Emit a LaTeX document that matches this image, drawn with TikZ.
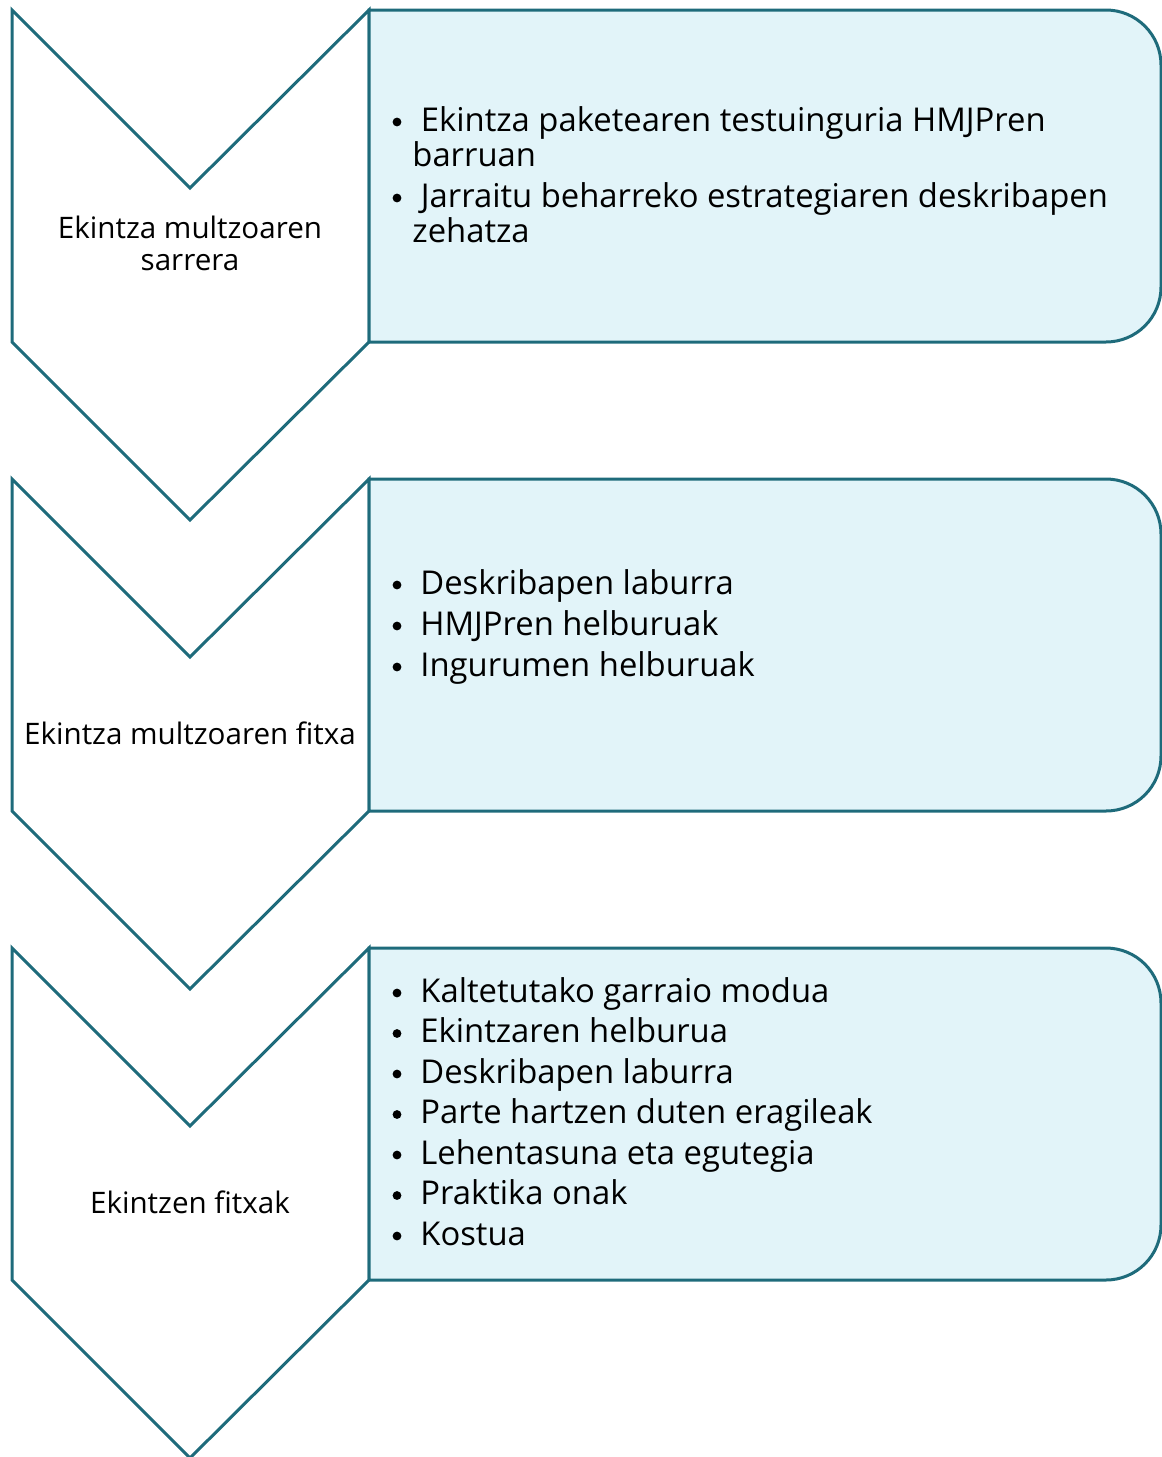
\documentclass[tikz,border=0pt]{standalone}
\usepackage{fontspec}
\setmainfont{Open Sans}
\definecolor{chevline}{HTML}{1E6B7B}
\definecolor{boxfill}{HTML}{E2F4F9}
\begin{document}
\begin{tikzpicture}[x=0.5pt, y=-0.5pt, line join=miter]
%Kokapenak (pixeletan)
\def\xl{12}  \def\xm{190}  \def\xr{369}  \def\xe{1161}
\def\h{332}  \def\d{178}
\tikzset{
  chev/.style={draw=chevline, line width=1.5pt, fill=white},
  panel/.style={draw=chevline, line width=1.5pt, fill=boxfill},
  lbl/.style={align=center, inner sep=0, font=\fontsize{14.8}{16}\selectfont},
  itm/.style={anchor=base west, inner sep=0, font=\fontsize{16.4}{17.5}\selectfont},
  dot/.style={circle, fill=black, inner sep=0, minimum size=4.4pt}
}
\useasboundingbox (0,0) rectangle (1162,1457);
%Geziak eta kutxak
\foreach \t in {10,479,948}{
  \draw[chev] (\xl,\t) -- (\xm,{\t+\d}) -- (\xr,\t) -- (\xr,{\t+\h})
    -- (\xm,{\t+\h+\d}) -- (\xl,{\t+\h}) -- cycle;
  \draw[panel] (\xr,\t) [rounded corners=27.5pt] -- (\xe,\t) -- (\xe,{\t+\h})
    [sharp corners] -- (\xr,{\t+\h}) -- cycle;
}
%Ezkerreko testuak
\node[lbl] (sarrera) at (\xm,243) {Ekintza multzoaren\\sarrera};
\node[lbl] (fitxa) at (\xm,733) {Ekintza multzoaren fitxa};
\node[lbl] (fitxak) at (\xm,1202) {Ekintzen fitxak};
%Lehen kutxa
\node[dot] (b11) at (397,122) {};
\node[itm] (t11) at (412,131) {\ Ekintza paketearen testuinguria HMJPren};
\node[itm] (t12) at (412,166) {barruan};
\node[dot] (b12) at (397,198) {};
\node[itm] (t13) at (412,207) {\ Jarraitu beharreko estrategiaren deskribapen};
\node[itm] (t14) at (412,242) {zehatza};
%Bigarren kutxa
\foreach \s [count=\i] in {Deskribapen laburra, HMJPren helburuak, Ingurumen helburuak}{
  \node[dot] (b2\i) at (397,{544+41*\i}) {};
  \node[itm] (t2\i) at (420,{553+41*\i}) {\s};
}
%Hirugarren kutxa
\foreach \s [count=\i] in {Kaltetutako garraio modua, Ekintzaren helburua,
    Deskribapen laburra, Parte hartzen duten eragileak, Lehentasuna eta egutegia,
    Praktika onak, Kostua}{
  \node[dot] (b3\i) at (397,{952.5+40.5*\i}) {};
  \node[itm] (t3\i) at (420,{961.5+40.5*\i}) {\s};
}
\end{tikzpicture}
\end{document}
